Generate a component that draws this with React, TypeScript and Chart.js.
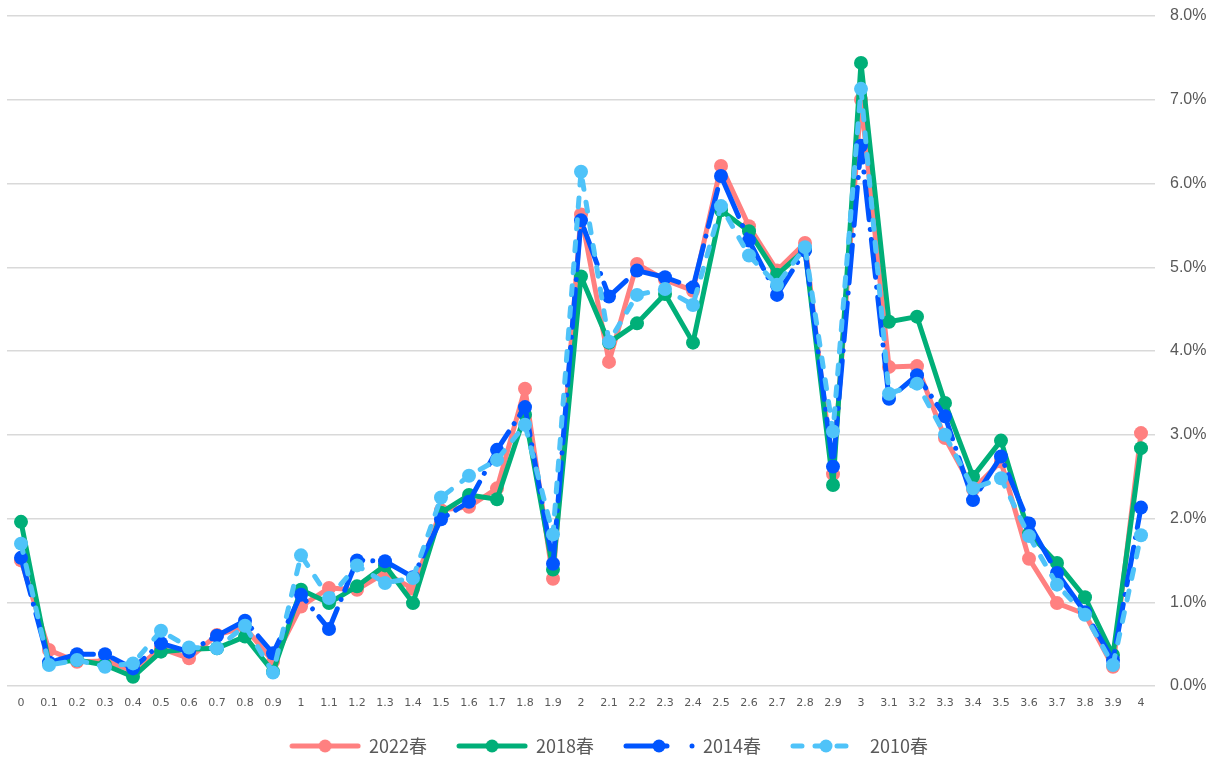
import React, { useEffect, useRef } from "react";
import { Chart, registerables } from "chart.js";

Chart.register(...registerables);

const labels = [
  "0", "0.1", "0.2", "0.3", "0.4", "0.5", "0.6", "0.7", "0.8", "0.9",
  "1", "1.1", "1.2", "1.3", "1.4", "1.5", "1.6", "1.7", "1.8", "1.9",
  "2", "2.1", "2.2", "2.3", "2.4", "2.5", "2.6", "2.7", "2.8", "2.9",
  "3", "3.1", "3.2", "3.3", "3.4", "3.5", "3.6", "3.7", "3.8", "3.9", "4",
];

const s2022 = [
  1.50, 0.43, 0.29, 0.30, 0.18, 0.45, 0.33, 0.61, 0.70, 0.29,
  0.95, 1.17, 1.15, 1.35, 1.16, 2.10, 2.14, 2.36, 3.55, 1.28,
  5.63, 3.87, 5.04, 4.85, 4.72, 6.21, 5.49, 4.96, 5.29, 2.53,
  7.00, 3.81, 3.82, 2.96, 2.35, 2.68, 1.52, 0.99, 0.86, 0.23, 3.02,
];
const s2018 = [
  1.96, 0.27, 0.31, 0.25, 0.11, 0.41, 0.44, 0.45, 0.59, 0.17,
  1.15, 0.99, 1.19, 1.44, 0.99, 2.07, 2.28, 2.23, 3.24, 1.39,
  4.89, 4.10, 4.33, 4.68, 4.10, 5.68, 5.43, 4.91, 5.21, 2.40,
  7.44, 4.35, 4.41, 3.38, 2.50, 2.93, 1.82, 1.47, 1.06, 0.37, 2.84,
];
const s2014 = [
  1.53, 0.28, 0.38, 0.38, 0.21, 0.51, 0.41, 0.60, 0.78, 0.39,
  1.09, 0.68, 1.50, 1.49, 1.30, 1.99, 2.20, 2.82, 3.33, 1.46,
  5.56, 4.65, 4.96, 4.88, 4.76, 6.09, 5.32, 4.67, 5.20, 2.62,
  6.45, 3.43, 3.71, 3.22, 2.22, 2.74, 1.94, 1.35, 0.88, 0.31, 2.13,
];
const s2010 = [
  1.70, 0.25, 0.31, 0.23, 0.27, 0.66, 0.46, 0.45, 0.72, 0.16,
  1.56, 1.05, 1.44, 1.23, 1.29, 2.25, 2.51, 2.70, 3.12, 1.81,
  6.14, 4.11, 4.67, 4.74, 4.55, 5.73, 5.14, 4.79, 5.24, 3.04,
  7.13, 3.49, 3.61, 3.00, 2.36, 2.48, 1.79, 1.21, 0.85, 0.25, 1.80,
];

const seriesNames = ["2022春", "2018春", "2014春", "2010春"];
const seriesColors = ["#FF8080", "#00AF78", "#0055FF", "#4FC3F9"];
const seriesDashes: number[][] = [[], [], [38, 10, 0.01, 10], [9, 13]];

function makeMarker(color: string, idx: number): HTMLCanvasElement {
  const c = document.createElement("canvas");
  c.width = 76;
  c.height = 18;
  const ctx = c.getContext("2d")!;
  ctx.strokeStyle = color;
  ctx.fillStyle = color;
  ctx.lineWidth = 5;
  ctx.lineCap = "round";
  const y = 9;
  const o = 4;
  if (idx === 2) {
    ctx.beginPath();
    ctx.moveTo(o + 3, y);
    ctx.lineTo(o + 44, y);
    ctx.stroke();
    ctx.beginPath();
    ctx.arc(o + 69, y, 2.5, 0, Math.PI * 2);
    ctx.fill();
  } else if (idx === 3) {
    ctx.setLineDash([9, 13]);
    ctx.beginPath();
    ctx.moveTo(o + 3, y);
    ctx.lineTo(o + 69, y);
    ctx.stroke();
  } else {
    ctx.beginPath();
    ctx.moveTo(o + 3, y);
    ctx.lineTo(o + 69, y);
    ctx.stroke();
  }
  ctx.setLineDash([]);
  ctx.beginPath();
  ctx.arc(o + 36, y, 6.5, 0, Math.PI * 2);
  ctx.fill();
  return c;
}

export default function App() {
  const ref = useRef<HTMLCanvasElement | null>(null);
  useEffect(() => {
    document.body.style.margin = "0";
    if (!ref.current) return;
    const allData = [s2022, s2018, s2014, s2010];
    const markers = seriesColors.map((col, i) => makeMarker(col, i));
    const chart = new Chart(ref.current, {
      type: "line",
      data: {
        labels,
        datasets: allData.map((d, i) => ({
          label: seriesNames[i],
          data: d,
          borderColor: seriesColors[i],
          backgroundColor: seriesColors[i],
          pointBackgroundColor: seriesColors[i],
          pointBorderWidth: 0,
          pointRadius: 7,
          borderWidth: 5,
          borderDash: seriesDashes[i],
          borderCapStyle: "round",
          borderJoinStyle: "round",
          tension: 0,
          fill: false,
          order: 3 - i,
        })),
      },
      options: {
        animation: false,
        responsive: true,
        maintainAspectRatio: false,
        layout: { autoPadding: false, padding: { left: 7, right: 16, top: 0, bottom: -5 } },
        plugins: {
          tooltip: { enabled: false },
          legend: {
            position: "bottom",
            labels: {
              usePointStyle: true,
              pointStyleWidth: 74,
              boxHeight: 18,
              padding: 26,
              color: "#595959",
              font: { family: "'Noto Sans CJK SC', 'Noto Sans', sans-serif", size: 18 },
              generateLabels: () =>
                seriesNames.map((n, i) => ({
                  text: n,
                  pointStyle: markers[i] as any,
                  datasetIndex: i,
                  hidden: false,
                  fontColor: "#595959",
                  lineWidth: 0,
                  strokeStyle: "rgba(0,0,0,0)",
                  fillStyle: "rgba(0,0,0,0)",
                })),
            },
          },
        },
        scales: {
          x: {
            offset: true,
            grid: { display: false, drawTicks: false },
            border: { display: false },
            ticks: {
              color: "#595959",
              font: { family: "'DejaVu Sans', sans-serif", size: 11 },
              padding: 11,
              maxRotation: 0,
              autoSkip: false,
            },
            afterFit: (s: any) => {
              s.height = 25;
            },
          },
          y: {
            position: "right",
            min: 0,
            max: 8,
            grid: { color: "#d9d9d9", lineWidth: 1.5, drawTicks: false },
            border: { display: false },
            ticks: {
              stepSize: 1,
              padding: 15,
              color: "#595959",
              font: { family: "'Liberation Sans', Arial, sans-serif", size: 16 },
              callback: (v: any) => Number(v).toFixed(1) + "%",
            },
            afterFit: (s: any) => {
              s.width = 52;
              s.paddingTop = 16;
              s.paddingBottom = 10;
            },
          },
        },
      },
    });
    return () => chart.destroy();
  }, []);
  return (
    <div style={{ width: 1223, height: 760, position: "relative", overflow: "hidden" }}>
      <canvas ref={ref} />
    </div>
  );
}
